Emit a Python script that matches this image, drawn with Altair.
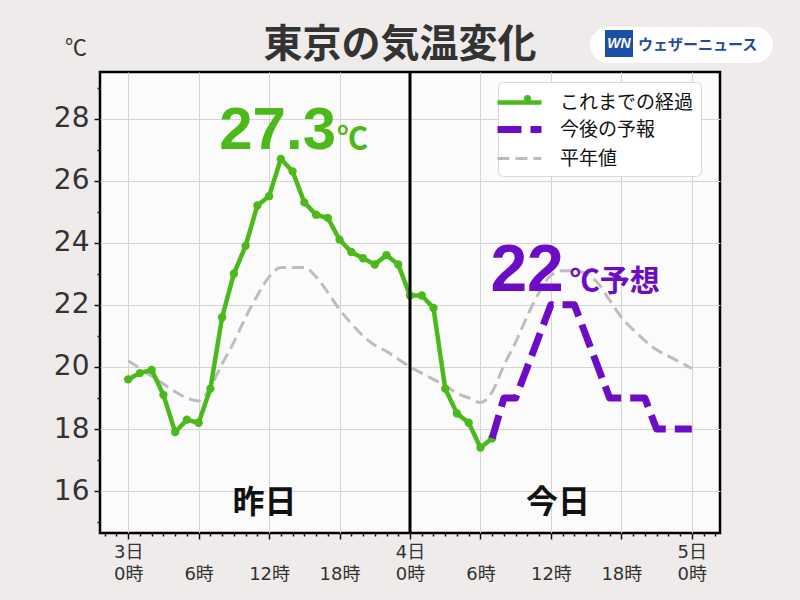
import json
import altair as alt
import pandas as pd

# ---------------- data ----------------
title_text = "東京の気温変化"
unit_label = "℃"
brand_mark = "WN"
brand_name = "ウェザーニュース"

obs_hours = list(range(0, 32))
obs_temps = [19.6, 19.8, 19.9, 19.1, 17.9, 18.3, 18.2, 19.3, 21.6, 23.0,
             23.9, 25.2, 25.5, 26.7, 26.3, 25.3, 24.9, 24.8, 24.1, 23.7,
             23.5, 23.3, 23.6, 23.3, 22.3, 22.3, 21.9, 19.3, 18.5, 18.2,
             17.4, 17.7]

fc_hours = list(range(31, 49))
fc_temps = [17.7, 19, 19, 20, 21, 22, 22, 22, 21, 20, 19, 19, 19, 19, 18, 18, 18, 18]

normal_hours = list(range(0, 49))
normal_temps = [20.2, 19.95, 19.7, 19.45, 19.2, 19.0, 18.9, 19.35, 20.1, 20.8,
                21.6, 22.3, 22.9, 23.2, 23.2, 23.2, 22.9, 22.4, 21.85, 21.4,
                21.0, 20.7, 20.5, 20.25, 20.0, 19.8, 19.6, 19.4, 19.15, 19.0,
                18.85, 19.2, 20.05, 20.8, 21.65, 22.4, 22.95, 23.1, 23.1, 23.0,
                22.7, 22.15, 21.6, 21.2, 20.85, 20.55, 20.35, 20.15, 19.95]

series_names = ["これまでの経過", "今後の予報", "平年値"]
series_colors = ["#4cb91a", "#6c0cc4", "#bdbdbd"]
series_dashes = [[1, 0], [24, 9], [12, 6]]
series_widths = [4.5, 7, 3]

x_tick_hours = [0, 6, 12, 18, 24, 30, 36, 42, 48]
x_tick_labels = [["3日", "0時"], ["", "6時"], ["", "12時"], ["", "18時"],
                 ["4日", "0時"], ["", "6時"], ["", "12時"], ["", "18時"],
                 ["5日", "0時"]]
x_all_ticks = list(range(-2, 51))
y_all_ticks = list(range(15, 30))

day_boundary_hours = [24]
day_label_texts = ["昨日", "今日"]
day_label_hours = [11.6, 36.6]
day_label_temps = [15.62, 15.62]

max_value_text = ["27.3"]
max_unit_text = ["℃"]
max_label_hour = [17.7]
max_label_temp = [27.03]

fc_value_text = ["22"]
fc_unit_text = ["℃予想"]
fc_label_hour = [37.1]
fc_label_temp = [22.45]

# ---------------- tables ----------------
lines_df = pd.DataFrame({
    "hour": normal_hours + obs_hours + fc_hours,
    "temp": normal_temps + obs_temps + fc_temps,
    "series": [series_names[2]] * len(normal_hours)
              + [series_names[0]] * len(obs_hours)
              + [series_names[1]] * len(fc_hours),
})
obs_df = pd.DataFrame({"hour": obs_hours, "temp": obs_temps,
                       "series": [series_names[0]] * len(obs_hours)})
rule_df = pd.DataFrame({"hour": day_boundary_hours})
day_df = pd.DataFrame({"hour": day_label_hours, "temp": day_label_temps, "txt": day_label_texts})
max_df = pd.DataFrame({"hour": max_label_hour, "temp": max_label_temp,
                       "num": max_value_text, "unit": max_unit_text})
fcl_df = pd.DataFrame({"hour": fc_label_hour, "temp": fc_label_temp,
                       "num": fc_value_text, "unit": fc_unit_text})
one = pd.DataFrame({"title": [title_text], "unit": [unit_label],
                    "mark": [brand_mark], "brand": [brand_name]})

# ---------------- scales / axes ----------------
FONT = "Noto Sans CJK JP"
MIXED = "DejaVu Sans, Noto Sans CJK JP"
x_dom = [-2.4, 50.4]
y_dom = [14.65, 29.5]

label_expr = "".join(
    f"datum.value === {h} ? {json.dumps(l, ensure_ascii=False)} : "
    for h, l in zip(x_tick_hours, x_tick_labels)
) + "''"

x_axis = alt.Axis(
    values=x_all_ticks, labelExpr=label_expr, title=None,
    labelFontSize=18, labelColor="#333", labelFont=MIXED, labelLineHeight=22,
    labelPadding=4, labelAngle=0, labelOverlap=False,
    tickSize={"condition": {"test": "datum.value % 6 === 0", "value": 6}, "value": 3},
    gridOpacity={"condition": {"test": "datum.value % 6 === 0", "value": 1}, "value": 0},
    tickColor="#111", tickWidth=1.5, domain=False, grid=True,
    gridColor="#d6d3d3", gridWidth=1,
)
y_axis = alt.Axis(
    values=y_all_ticks, labelExpr="datum.value % 2 === 0 ? datum.label : ''",
    title=None, labelFontSize=28, labelColor="#333", labelFont="DejaVu Sans",
    labelPadding=5, labelOverlap=False,
    tickSize={"condition": {"test": "datum.value % 2 === 0", "value": 6}, "value": 3},
    gridOpacity={"condition": {"test": "datum.value % 2 === 0", "value": 1}, "value": 0},
    tickColor="#111", tickWidth=1.5, domain=False, grid=True,
    gridColor="#d6d3d3", gridWidth=1,
)

x_scale = alt.Scale(domain=x_dom, nice=False, zero=False)
y_scale = alt.Scale(domain=y_dom, nice=False, zero=False)

def X(field="hour"):
    return alt.X(f"{field}:Q", scale=x_scale, axis=x_axis)

def Y(field="temp"):
    return alt.Y(f"{field}:Q", scale=y_scale, axis=y_axis)

legend = alt.Legend(
    title=None, orient="none", legendX=398, legendY=10,
    symbolType="M-2,0L2,0", symbolSize=484,
    labelFontSize=19, labelFont=FONT, labelColor="#111", labelOffset=26,
    fillColor="white", strokeColor="#d8d8d8", cornerRadius=5, padding=7,
    rowPadding=2,
)

color_enc = alt.Color("series:N", scale=alt.Scale(domain=series_names, range=series_colors),
                      legend=legend, sort=series_names)
dash_enc = alt.StrokeDash("series:N", scale=alt.Scale(domain=series_names, range=series_dashes),
                          legend=legend, sort=series_names)
width_enc = alt.StrokeWidth("series:N",
                            scale=alt.Scale(type="ordinal", domain=series_names, range=series_widths),
                            legend=legend, sort=series_names)

# legend dot for the observed series (separate legend stacked on the first)
dot_legend = alt.Legend(
    title=None, orient="none", legendX=423.5, legendY=22.5,
    symbolType="circle", symbolSize=50, symbolStrokeWidth=0,
    labelExpr="''", labelFontSize=1, padding=0,
)
dot_fill = alt.Fill("series:N",
                    scale=alt.Scale(domain=series_names[:1], range=series_colors[:1]),
                    legend=dot_legend)

base_lines = alt.Chart(lines_df)

def line_layer(name, interp):
    return base_lines.transform_filter(alt.datum.series == name).mark_line(
        interpolate=interp, strokeCap="butt", strokeJoin="round"
    ).encode(x=X(), y=Y(), color=color_enc, strokeDash=dash_enc, strokeWidth=width_enc)

normal_layer = line_layer(series_names[2], "monotone")
obs_layer = line_layer(series_names[0], "linear")
fc_layer = line_layer(series_names[1], "linear")

points = alt.Chart(obs_df).mark_circle(size=70, opacity=1).encode(
    x=X(), y=Y(), fill=dot_fill)

rule = alt.Chart(rule_df).mark_rule(color="black", strokeWidth=3).encode(x=X())

day_text = alt.Chart(day_df).mark_text(
    fontSize=32, fontWeight="bold", color="#111", font=FONT, align="center", baseline="middle"
).encode(x=X(), y=Y(), text="txt:N")

max_num = alt.Chart(max_df).mark_text(
    fontSize=60, fontWeight="bold", color=series_colors[0], font="Liberation Sans",
    align="right", baseline="alphabetic").encode(x=X(), y=Y(), text="num:N")
max_unit = alt.Chart(max_df).mark_text(
    fontSize=31, fontWeight="bold", color=series_colors[0], font=FONT,
    align="left", baseline="alphabetic", dx=1).encode(x=X(), y=Y(), text="unit:N")

fc_num = alt.Chart(fcl_df).mark_text(
    fontSize=66, fontWeight="bold", color=series_colors[1], font="Liberation Sans",
    align="right", baseline="alphabetic").encode(x=X(), y=Y(), text="num:N")
fc_unit = alt.Chart(fcl_df).mark_text(
    fontSize=30, fontWeight="bold", color=series_colors[1], font=FONT,
    align="left", baseline="alphabetic", dx=6).encode(x=X(), y=Y(), text="unit:N")

base_one = alt.Chart(one)
title_mark = base_one.mark_text(fontSize=39, fontWeight="bold", color="#333", font=FONT,
                                align="center", baseline="middle").encode(
    x=alt.value(300), y=alt.value(-27), text="title:N")
unit_mark = base_one.mark_text(fontSize=22, color="#333", font=FONT,
                               align="center", baseline="middle").encode(
    x=alt.value(-24), y=alt.value(-24), text="unit:N")
pill = base_one.mark_rect(color="white", cornerRadius=18).encode(
    x=alt.value(490), x2=alt.value(673), y=alt.value(-45), y2=alt.value(-9))
logo_box = base_one.mark_rect(color="#1c4fa6").encode(
    x=alt.value(505), x2=alt.value(533), y=alt.value(-42), y2=alt.value(-15))
logo_txt = base_one.mark_text(fontSize=14, fontWeight="bold", fontStyle="italic", color="white",
                              font="Liberation Sans", align="center", baseline="middle").encode(
    x=alt.value(519), y=alt.value(-28), text="mark:N")
brand_txt = base_one.mark_text(fontSize=15, fontWeight="bold", color="#1f4b9d", font=FONT,
                               align="left", baseline="middle").encode(
    x=alt.value(538), y=alt.value(-27), text="brand:N")

chart = alt.layer(
    normal_layer, obs_layer, points, fc_layer, rule,
    day_text, max_num, max_unit, fc_num, fc_unit,
    title_mark, unit_mark, pill, logo_box, logo_txt, brand_txt,
).properties(
    width=620, height=461,
    autosize=alt.AutoSizeParams(type="none"),
    padding={"left": 100, "top": 72, "right": 80, "bottom": 67},
    background="#eeebea",
).configure(
    font=FONT,
    view=alt.ViewConfig(fill="#fcfbfb", stroke="black", strokeWidth=2.5),
)

chart.save("out.html", embed_options={"renderer": "svg", "actions": False})
